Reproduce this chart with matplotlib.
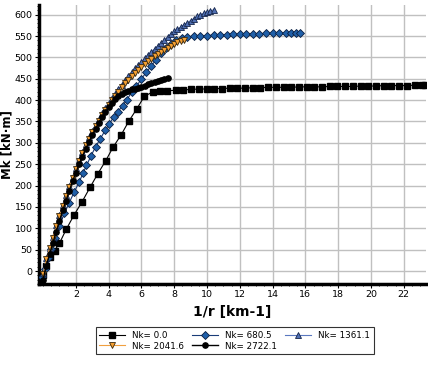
import matplotlib
matplotlib.use("Agg")
import matplotlib.pyplot as plt
from matplotlib.ticker import MultipleLocator

# Nk = 0.0
x_0 = [-0.1, 0.0, 0.2, 0.45, 0.7, 1.0, 1.42, 1.89, 2.38, 2.87, 3.33, 3.82, 4.29, 4.77, 5.22,
       5.71, 6.18, 6.69, 7.13, 7.58, 8.09, 8.56, 9.03, 9.5, 9.97, 10.44, 10.91, 11.38, 11.85,
       12.32, 12.79, 13.26, 13.73, 14.2, 14.67, 15.14, 15.61, 16.08, 16.55, 17.02, 17.49,
       17.96, 18.43, 18.9, 19.37, 19.84, 20.31, 20.78, 21.25, 21.72, 22.19, 22.66, 23.13, 23.3]
y_0 = [-22, -10, 12, 32, 48, 65, 98, 131, 162, 196, 227, 258, 291, 319, 350,
       379, 409, 419, 421, 422, 423, 424, 425, 426, 426, 427, 427, 428, 428,
       428, 429, 429, 430, 430, 430, 430, 431, 431, 431, 431, 432,
       432, 432, 432, 433, 433, 433, 434, 434, 434, 434, 435, 435, 435]

# Nk = 680.5
x_680 = [-0.05, 0.1, 0.3, 0.5, 0.75, 1.0, 1.3, 1.6, 1.9, 2.2, 2.45, 2.65, 2.93, 3.21, 3.5,
         3.8, 4.05, 4.3, 4.55, 4.85, 5.1, 5.4, 5.7, 6.0, 6.3, 6.6, 6.9, 7.2, 7.5, 7.8, 8.1,
         8.45, 8.8, 9.2, 9.6, 10.0, 10.4, 10.8, 11.2, 11.6, 12.0, 12.4, 12.8, 13.2, 13.6,
         14.0, 14.4, 14.8, 15.1, 15.4, 15.7]
y_680 = [-15, 5, 30, 52, 78, 105, 135, 160, 185, 208, 230, 247, 270, 291, 310,
         330, 345, 360, 372, 387, 400, 418, 432, 450, 465, 480, 495, 510, 522, 532, 540,
         545, 547, 549, 550, 551, 552, 553, 553, 554, 554, 555, 555, 555, 556,
         556, 556, 557, 557, 558, 558]

# Nk = 1361.1
x_1361 = [0.0, 0.2, 0.4, 0.6, 0.8, 1.0, 1.2, 1.4, 1.6, 1.8, 2.0, 2.2, 2.4, 2.6, 2.8, 3.0,
          3.2, 3.4, 3.6, 3.8, 4.0, 4.2, 4.4, 4.6, 4.8, 5.0, 5.2, 5.4, 5.6, 5.8, 6.0, 6.2,
          6.4, 6.6, 6.8, 7.0, 7.2, 7.4, 7.6, 7.8, 8.0, 8.2, 8.4, 8.6, 8.8, 9.0, 9.2, 9.4,
          9.6, 9.8, 10.0, 10.2, 10.4]
y_1361 = [-5, 30, 55, 80, 108, 130, 155, 178, 200, 220, 240, 260, 278, 297, 313, 328,
          342, 356, 369, 381, 393, 404, 415, 426, 436, 446, 456, 465, 474, 482, 490, 498,
          506, 513, 520, 527, 534, 541, 548, 555, 561, 566, 571, 576, 581, 586, 591, 596,
          600, 603, 606, 609, 611]

# Nk = 2041.6
x_2041 = [0.0, 0.2, 0.4, 0.6, 0.8, 1.0, 1.2, 1.4, 1.6, 1.8, 2.0, 2.2, 2.4, 2.6, 2.8, 3.0,
          3.2, 3.4, 3.6, 3.8, 4.0, 4.2, 4.4, 4.6, 4.8, 5.0, 5.2, 5.4, 5.6, 5.8, 6.0, 6.2,
          6.4, 6.6, 6.8, 7.0, 7.2, 7.4, 7.6, 7.8, 8.0, 8.2, 8.4, 8.6]
y_2041 = [-8, 28, 53, 78, 105, 128, 152, 175, 197, 218, 238, 258, 276, 294, 310, 325,
          339, 352, 365, 377, 389, 400, 410, 420, 430, 439, 448, 456, 464, 471, 478, 485,
          491, 497, 503, 508, 513, 518, 523, 527, 531, 535, 538, 541]

# Nk = 2722.1
x_2722 = [0.0, 0.2, 0.4, 0.6, 0.8, 1.0, 1.2, 1.4, 1.6, 1.8, 2.0, 2.2, 2.4, 2.6, 2.8, 3.0,
          3.2, 3.4, 3.6, 3.8, 4.0, 4.2, 4.4, 4.6, 4.8, 5.0, 5.2, 5.4, 5.6, 5.8, 6.0, 6.2,
          6.4, 6.6, 6.8, 7.0, 7.2, 7.4, 7.6]
y_2722 = [-20, 12, 40, 66, 92, 117, 142, 165, 188, 210, 230, 250, 268, 286, 302, 318,
          333, 347, 360, 372, 383, 393, 402, 409, 415, 419, 422, 425, 427, 429, 431, 434,
          437, 439, 442, 445, 447, 450, 452]

fig = plt.figure(figsize=(4.28, 3.72), dpi=100)
ax = fig.add_axes([0.091, 0.237, 0.904, 0.75])

h0, = ax.plot(x_0, y_0, color='black', lw=0.8, marker='s', ms=3.8,
              mfc='black', mec='black', label='Nk= 0.0', zorder=3)
h1, = ax.plot(x_680, y_680, color='#1a3c78', lw=0.8, marker='D', ms=3.8,
              mfc='#1f5fa8', mec='#0a1e40', mew=0.6, label='Nk= 680.5', zorder=4)
h2, = ax.plot(x_1361, y_1361, color='#5a78c0', lw=0.8, marker='^', ms=5,
              mfc='#5070b4', mec='#15254a', mew=0.6, label='Nk= 1361.1', zorder=5)
h3, = ax.plot(x_2041, y_2041, color='#f0a040', lw=0.8, marker='v', ms=5,
              mfc='#f5a033', mec='#3a2a10', mew=0.6, label='Nk= 2041.6', zorder=6)
h4, = ax.plot(x_2722, y_2722, color='black', lw=1.0, marker='o', ms=3.8,
              mfc='black', mec='black', label='Nk= 2722.1', zorder=7)

ax.set_xlim(-0.25, 23.35)
ax.set_ylim(-30, 623)
ax.set_xticks([2, 4, 6, 8, 10, 12, 14, 16, 18, 20, 22])
ax.xaxis.set_minor_locator(MultipleLocator(0.5))
ax.set_yticks(range(0, 601, 50))
ax.yaxis.set_minor_locator(MultipleLocator(10))
ax.grid(True, which='major', color='#c0c0c0', lw=1)
ax.set_axisbelow(True)
ax.tick_params(labelsize=6.8, length=3, width=0.8, pad=1.5)
ax.tick_params(which='minor', length=1.5, width=0.6)

for s in ['top', 'right']:
    ax.spines[s].set_visible(False)
for s in ['left', 'bottom']:
    ax.spines[s].set_linewidth(2.5)

ax.set_xlabel('1/r [km-1]', fontsize=10, fontweight='bold', labelpad=4)
ax.set_ylabel('Mk [kN·m]', fontsize=8.5, fontweight='bold')
# label coords give the right-hand edge of the rotated text
ax.yaxis.set_label_coords(-0.066, 0.5)

# row-major order in the legend, like the original
leg = fig.legend([h0, h3, h1, h4, h2],
                 ['Nk= 0.0', 'Nk= 2041.6', 'Nk= 680.5', 'Nk= 2722.1', 'Nk= 1361.1'],
                 loc='upper left', bbox_to_anchor=(0.213, 0.132), ncol=3,
                 fontsize=6.3, frameon=True, fancybox=False, handlelength=3.0,
                 borderpad=0.4, labelspacing=0.2, columnspacing=0.9, handletextpad=0.8)
leg.get_frame().set_edgecolor('black')
leg.get_frame().set_linewidth(0.8)

fig.savefig('out.png', dpi=100)
